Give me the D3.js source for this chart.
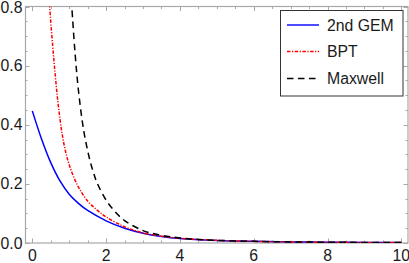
<!DOCTYPE html>
<html lang="en">
<head>
    <meta charset="UTF-8">
    <script src="https://d3js.org/d3.v7.min.js"></script>
    <title>Distributions</title>
    <style>
        body { margin: 0; background: white; }
        svg { display: block; }
        text { font-family: "Liberation Sans", Arial, sans-serif; font-size: 15.8px; fill: #1a1a1a; }
    </style>
</head>
<body>
    <div id="chart"></div>
    <script>
        // values
        const gemX = [0, 0.25, 0.5, 0.75, 1, 1.25, 1.5, 2, 2.5, 3, 3.5, 4, 5, 6, 7, 8, 9, 10];
        const gemY = [0.447, 0.352, 0.272, 0.210, 0.165, 0.134, 0.110, 0.075, 0.050, 0.033, 0.022, 0.015, 0.0085, 0.0055, 0.0038, 0.0027, 0.002, 0.0015];

        const bptX = [0.44, 0.47, 0.55, 0.62, 0.7, 0.8, 0.9, 1.0, 1.15, 1.3, 1.5, 1.75, 2, 2.5, 3, 3.5, 4, 5, 6, 7, 8, 9, 10];
        const bptY = [0.86, 0.8, 0.67, 0.57, 0.47, 0.375, 0.31, 0.265, 0.215, 0.178, 0.142, 0.112, 0.088, 0.055, 0.034, 0.023, 0.016, 0.009, 0.0055, 0.0037, 0.0026, 0.0019, 0.0014];

        const maxX = [1.04, 1.07, 1.16, 1.26, 1.4, 1.56, 1.66, 1.75, 2, 2.25, 2.5, 3, 3.5, 4, 4.5, 5, 6, 7, 8, 9, 10];
        const maxY = [0.86, 0.8, 0.64, 0.505, 0.375, 0.28, 0.237, 0.205, 0.145, 0.105, 0.076, 0.042, 0.026, 0.017, 0.012, 0.009, 0.0055, 0.0037, 0.0026, 0.0019, 0.0014];

        const seriesNames = ["2nd GEM", "BPT", "Maxwell"];
        const xTicks = [0, 2, 4, 6, 8, 10];
        const yTicks = [0, 0.2, 0.4, 0.6, 0.8];

        const width = 409, height = 263;
        const frame = { left: 25, right: 408, top: 6.5, bottom: 243 };

        const x = d3.scaleLinear().domain([-0.198, 10.18]).range([frame.left, frame.right]);
        const y = d3.scaleLinear().domain([0, 0.8]).range([frame.bottom, frame.top]);

        const svg = d3.select("#chart").append("svg")
            .attr("width", width)
            .attr("height", height);

        svg.append("clipPath").attr("id", "plot-clip")
            .append("rect")
            .attr("x", frame.left).attr("y", frame.top)
            .attr("width", frame.right - frame.left)
            .attr("height", frame.bottom - frame.top);

        // ticks on all four sides, pointing inward
        const tickColor = "#a8a8a8";
        const ticks = svg.append("g").attr("stroke", tickColor).attr("stroke-width", 1);
        const xMinor = d3.range(0, 10.01, 0.5);
        const yMinor = d3.range(0, 0.801, 0.05);

        xMinor.forEach(v => {
            const major = xTicks.some(t => Math.abs(t - v) < 1e-6);
            const len = major ? 4.5 : 2.5;
            const px = Math.round(x(v)) + 0.5;
            ticks.append("line").attr("x1", px).attr("x2", px)
                .attr("y1", frame.bottom).attr("y2", frame.bottom - len);
            ticks.append("line").attr("x1", px).attr("x2", px)
                .attr("y1", frame.top).attr("y2", frame.top + len);
        });
        yMinor.forEach(v => {
            const major = yTicks.some(t => Math.abs(t - v) < 1e-6);
            const len = major ? 4.5 : 2.5;
            const py = Math.round(y(v)) + 0.5;
            ticks.append("line").attr("y1", py).attr("y2", py)
                .attr("x1", frame.left).attr("x2", frame.left + len);
            ticks.append("line").attr("y1", py).attr("y2", py)
                .attr("x1", frame.right).attr("x2", frame.right - len);
        });

        // frame
        svg.append("rect")
            .attr("x", frame.left + 0.5).attr("y", frame.top)
            .attr("width", frame.right - frame.left - 0.5)
            .attr("height", frame.bottom - frame.top)
            .attr("fill", "none")
            .attr("stroke", tickColor)
            .attr("stroke-width", 1.2);

        // tick labels
        svg.append("g").selectAll("text")
            .data(xTicks)
            .enter().append("text")
            .attr("x", d => x(d))
            .attr("y", 261)
            .attr("text-anchor", "middle")
            .text(d => d);

        svg.append("g").selectAll("text")
            .data(yTicks)
            .enter().append("text")
            .attr("x", 22.5)
            .attr("y", d => Math.max(y(d) + 5.5, 12.5))
            .attr("text-anchor", "end")
            .text(d => d3.format(".1f")(d));

        // curves
        const line = d3.line()
            .x(d => x(d[0]))
            .y(d => y(d[1]))
            .curve(d3.curveCatmullRom.alpha(0.5));

        const styles = [
            { color: "#0000ff", dash: null },
            { color: "#ff0000", dash: "3.5,1.5,1.2,1.5" },
            { color: "#000000", dash: "6.5,4.5" }
        ];
        const seriesData = [
            d3.zip(gemX, gemY),
            d3.zip(bptX, bptY),
            d3.zip(maxX, maxY)
        ];

        const plot = svg.append("g").attr("clip-path", "url(#plot-clip)");
        seriesData.forEach((pts, i) => {
            plot.append("path")
                .attr("d", line(pts))
                .attr("fill", "none")
                .attr("stroke", styles[i].color)
                .attr("stroke-width", 1.5)
                .attr("stroke-dasharray", styles[i].dash);
        });

        // legend
        const legend = svg.append("g");
        legend.append("rect")
            .attr("x", 280.5).attr("y", 10.5)
            .attr("width", 122.5).attr("height", 85.5)
            .attr("fill", "white")
            .attr("stroke", "#333")
            .attr("stroke-width", 1);

        const rowY = [25, 51.5, 78.5];
        seriesNames.forEach((name, i) => {
            legend.append("line")
                .attr("x1", 287).attr("x2", 319)
                .attr("y1", rowY[i]).attr("y2", rowY[i])
                .attr("stroke", styles[i].color)
                .attr("stroke-width", 1.4)
                .attr("stroke-dasharray", styles[i].dash);
            legend.append("text")
                .attr("x", 327)
                .attr("y", rowY[i] + 5.5)
                .text(name);
        });
    </script>
</body>
</html>
